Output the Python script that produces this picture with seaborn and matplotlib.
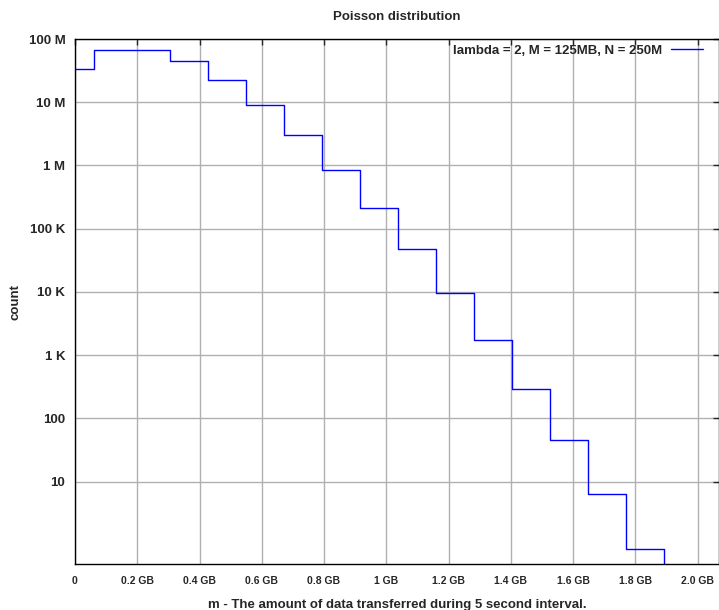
import numpy as np
import pandas as pd
import matplotlib
matplotlib.use("Agg")
import matplotlib.pyplot as plt
import seaborn as sns

# Poisson histogram, lambda = 2, bin width M = 125 MB (in GB), N = 250M samples
bin_width = 125 / 1024
k_values = list(range(16))
counts = [33.8e6, 67.7e6, 67.7e6, 45.1e6, 22.6e6, 9.0e6, 3.0e6, 860e3,
          215e3, 47.7e3, 9.5e3, 1.75e3, 290, 45, 6.4, 0.86]

y_ticks = [10, 100, 1e3, 1e4, 1e5, 1e6, 1e7, 1e8]
y_labels = ['10', '100', '1 K', '10 K', '100 K', '1 M', '10 M', '100 M']
x_ticks = [0, 0.2, 0.4, 0.6, 0.8, 1.0, 1.2, 1.4, 1.6, 1.8, 2.0]
x_labels = ['0', '0.2 GB', '0.4 GB', '0.6 GB', '0.8 GB', '1 GB',
            '1.2 GB', '1.4 GB', '1.6 GB', '1.8 GB', '2.0 GB']

sns.set_style('white')
plt.rcParams['font.family'] = ['Liberation Sans', 'DejaVu Sans']
plt.rcParams['font.weight'] = 'bold'

# bin edges, line drops to the floor after the last bin
edges = [(k - 0.5) * bin_width for k in k_values] + [(k_values[-1] + 0.5) * bin_width]
steps = pd.DataFrame({'x': edges, 'count': counts + [0.1]})

fig = plt.figure(figsize=(7.19, 6.10), dpi=100)
ax = fig.add_axes([75 / 719, 1 - 564 / 610, 644 / 719, 525 / 610])

sns.lineplot(data=steps, x='x', y='count', drawstyle='steps-post', color='#0000ff',
             linewidth=1.0, estimator=None, sort=False,
             label='lambda = 2, M = 125MB, N = 250M', ax=ax)

ax.set_yscale('log')
ax.set_xlim(0, 644 / 311.3)
ax.set_ylim(0.5, 1e8)
ax.set_yticks(y_ticks)
ax.set_yticklabels(y_labels)
ax.yaxis.set_minor_locator(matplotlib.ticker.NullLocator())
ax.set_xticks(x_ticks)
ax.set_xticklabels(x_labels)

ax.grid(True, color='#b0b0b0', linewidth=1.0)
ax.set_axisbelow(True)
for s in ax.spines.values():
    s.set_color('black')
    s.set_linewidth(1.0)

ax.tick_params(axis='y', direction='in', length=4, width=1, right=True, labelsize=9.5, pad=7)
ax.tick_params(axis='x', direction='in', length=4, width=1, top=True, labelsize=7.5, pad=9)

ax.set_title('Poisson distribution', fontsize=9.5, fontweight='bold', pad=14)
ax.set_xlabel('m - The amount of data transferred during 5 second interval.',
              fontsize=9.5, fontweight='bold', labelpad=9)
ax.set_ylabel('count', fontsize=9.5, fontweight='bold', labelpad=5)

ax.legend(loc='upper right', bbox_to_anchor=(1 - 11 / 644, 1.0), markerfirst=False,
          frameon=False, fontsize=9.5, handlelength=2.4, borderaxespad=0.1,
          borderpad=0.3, handletextpad=0.7)

fig.savefig('out.png', dpi=100)
